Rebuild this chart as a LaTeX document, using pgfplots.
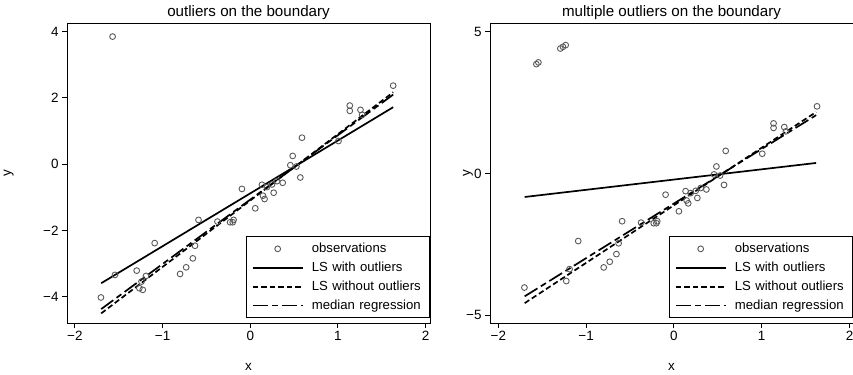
\documentclass[border=0pt]{standalone}
\usepackage{fontspec}
\setmainfont{Liberation Sans}
\usepackage{pgfplots}
\pgfplotsset{compat=1.18}
\pgfplotstableread{
x y
-1.57 3.85
1.63 2.37
1.135 1.77
1.135 1.61
1.257 1.64
1.276 1.49
1.006 0.70
0.59 0.80
0.484 0.25
0.457 -0.03
0.526 -0.07
0.571 -0.40
0.37 -0.56
-0.095 -0.745
0.133 -0.62
0.19 -0.69
0.248 -0.61
0.267 -0.86
0.145 -0.95
0.163 -1.05
0.057 -1.33
0.305 -0.51
-0.59 -1.68
-0.374 -1.73
-0.23 -1.75
-0.19 -1.68
-0.2 -1.75
-0.63 -2.46
-0.655 -2.84
-1.09 -2.38
-0.731 -3.11
-0.8 -3.31
-1.295 -3.21
-1.543 -3.34
-1.189 -3.37
-1.265 -3.74
-1.226 -3.79
-1.703 -4.02
-1.24 -3.54
}\dataA
\pgfplotstableread{
x y
-1.567 3.86
-1.544 3.92
-1.294 4.41
-1.264 4.47
-1.233 4.53
1.63 2.37
1.135 1.77
1.135 1.61
1.257 1.64
1.276 1.49
1.006 0.70
0.59 0.80
0.484 0.25
0.457 -0.03
0.526 -0.07
0.571 -0.40
0.37 -0.56
-0.095 -0.745
0.133 -0.62
0.19 -0.69
0.248 -0.61
0.267 -0.86
0.145 -0.95
0.163 -1.05
0.057 -1.33
0.305 -0.51
-0.59 -1.68
-0.374 -1.73
-0.23 -1.75
-0.19 -1.68
-0.2 -1.75
-0.63 -2.46
-0.655 -2.84
-1.09 -2.38
-0.731 -3.11
-0.8 -3.31
-1.189 -3.37
-1.226 -3.79
-1.703 -4.02
}\dataB
\pgfplotsset{
  rstyle/.style={
    scale only axis, width=363bp, height=300bp,
    axis line style={line width=0.9bp},
    tick align=outside, major tick length=5bp,
    tick style={line width=0.9bp, black},
    xtick={-2,-1,0,1,2}, xticklabels={−2,−1,0,1,2},
    xtick pos=bottom, ytick pos=left,
    tick label style={font=\fontsize{13.5}{16}\selectfont},
    label style={font=\fontsize{13.5}{16}\selectfont},
    every axis title/.style={font=\fontsize{15.2}{18}\selectfont, at={(rel axis cs:0.5,1)}, anchor=base, yshift=6.3bp},
    xlabel=x, ylabel=y,
    xlabel style={at={(rel axis cs:0.5,0)}, anchor=base, yshift=-47bp},
    legend cell align=left,
    legend style={at={(rel axis cs:1,0)}, anchor=south east, yshift=5bp,
      draw=black, line width=0.9bp, font=\fontsize{13.2}{15}\selectfont,
      inner xsep=5.7bp, inner ysep=5.5bp, row sep=5.9bp, column sep=8.3bp,
      nodes={inner sep=0pt, text height=10bp, text depth=3bp, text width=112bp, align=left}},
  },
  obs/.style={only marks, mark=o, mark size=2.9bp, mark options={line width=0.9bp, draw=black!65},
    legend image code/.code={\draw[##1] plot coordinates {(25bp,0bp)};}},
  lsw/.style={black, line width=1.7bp, no marks,
    legend image code/.code={\draw[##1] (0bp,0bp) -- (50bp,0bp);}},
  lsn/.style={lsw, dash pattern=on 5.5bp off 3bp},
  med/.style={lsw, dash pattern=on 15bp off 4bp on 6bp off 4bp},
}
\begin{document}
\begin{tikzpicture}
\useasboundingbox (0,0) rectangle (853bp,375bp);
\begin{axis}[rstyle, at={(67bp,52bp)}, anchor=south west,
  title={outliers on the boundary},
  xmin=-2.09, xmax=2.05, ymin=-4.79, ymax=4.26,
  ytick={-4,-2,0,2,4}, yticklabels={−4,−2,0,2,4},
  ylabel style={at={(axis description cs:-0.1543,0.5)}, anchor=base}]
\addplot[obs] table {\dataA};
\addplot[lsw] coordinates {(-1.70,-3.59) (1.63,1.72)};
\addplot[lsn] coordinates {(-1.70,-4.50) (1.63,2.17)};
\addplot[med] coordinates {(-1.70,-4.37) (1.63,2.10)};
\legend{observations, LS with outliers, LS without outliers, median regression}
\end{axis}
\begin{axis}[rstyle, at={(490bp,52bp)}, anchor=south west,
  title={multiple outliers on the boundary},
  xmin=-2.095, xmax=2.04, ymin=-5.27, ymax=5.31,
  ytick={-5,0,5}, yticklabels={−5,0,5},
  ylabel style={at={(axis description cs:-0.0551,0.5)}, anchor=base}]
\addplot[obs] table {\dataB};
\addplot[lsw] coordinates {(-1.70,-0.826) (1.62,0.374)};
\addplot[lsn] coordinates {(-1.70,-4.57) (1.62,2.17)};
\addplot[med] coordinates {(-1.70,-4.33) (1.62,2.06)};
\legend{observations, LS with outliers, LS without outliers, median regression}
\end{axis}
\end{tikzpicture}
\end{document}
